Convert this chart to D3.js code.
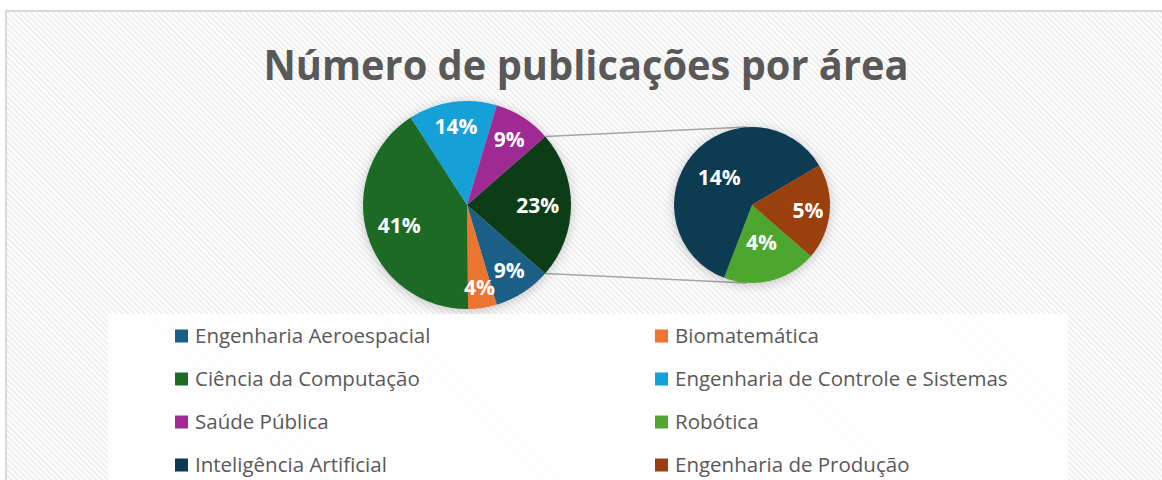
<!DOCTYPE html>
<html>
<head>
<meta charset="utf-8">
<script src="https://cdn.jsdelivr.net/npm/d3@7"></script>
<style>
  html, body { margin: 0; padding: 0; background: #fff; }
  svg { display: block; }
</style>
</head>
<body>
<div id="chart"></div>
<script>
// dados (percentuais)
const categorias = [
    "Engenharia Aeroespacial",
    "Biomatemática",
    "Ciência da Computação",
    "Engenharia de Controle e Sistemas",
    "Saúde Pública",
    "Robótica",
    "Inteligência Artificial",
    "Engenharia de Produção"
];
const valores = [8.9, 4.45, 41.0, 13.7, 8.9, 4.45, 13.9, 4.55];
const cores = ["#1b5e86", "#ed7532", "#1d6b25", "#13a0d8", "#a02c93", "#4ea72e", "#0e3a51", "#9a3f10"];
const corOutros = "#103e17";
const nSecundario = 3;   // as últimas 3 categorias vão para o segundo gráfico

const width = 1162,
    height = 480;

const total = d3.sum(valores);
const pct = v => Math.round(v / total * 100) + "%";

const svg = d3.select("#chart")
    .append("svg")
    .attr("width", width)
    .attr("height", height);

const defs = svg.append("defs");

const hatch = defs.append("pattern")
    .attr("id", "hatch")
    .attr("width", 4)
    .attr("height", 4)
    .attr("patternUnits", "userSpaceOnUse")
    .attr("patternTransform", "rotate(-45)");
hatch.append("rect").attr("width", 4).attr("height", 4).attr("fill", "#ffffff");
hatch.append("rect").attr("width", 1.6).attr("height", 4).attr("fill", "#ececec");

const shadow = defs.append("filter")
    .attr("id", "shadow")
    .attr("x", "-30%").attr("y", "-30%")
    .attr("width", "160%").attr("height", "160%");
shadow.append("feDropShadow")
    .attr("dx", 0).attr("dy", 2)
    .attr("stdDeviation", 6)
    .attr("flood-color", "#000")
    .attr("flood-opacity", 0.22);

// fundo do gráfico
svg.append("rect")
    .attr("x", 6)
    .attr("y", 11)
    .attr("width", width)
    .attr("height", height)
    .attr("fill", "url(#hatch)")
    .attr("stroke", "#d9d9d9")
    .attr("stroke-width", 2);

// título
svg.append("text")
    .attr("x", 586)
    .attr("y", 80)
    .attr("text-anchor", "middle")
    .attr("font-family", "'Open Sans', sans-serif")
    .attr("font-weight", "bold")
    .attr("font-size", 42)
    .attr("fill", "#595959")
    .attr("textLength", 645)
    .attr("lengthAdjust", "spacingAndGlyphs")
    .text("Número de publicações por área");

// pizza principal
const cx1 = 467, cy1 = 205, r1 = 104;
const cx2 = 752, cy2 = 205, r2 = 78;

const principais = categorias.slice(0, categorias.length - nSecundario).map((c, i) => ({ nome: c, valor: valores[i], cor: cores[i] }));
const secundarios = categorias.slice(-nSecundario).map((c, i) => {
    const k = categorias.length - nSecundario + i;
    return { nome: c, valor: valores[k], cor: cores[k] };
});
const somaOutros = d3.sum(secundarios, d => d.valor);

const anguloOutros = 2 * Math.PI * somaOutros / total;
const inicio1 = Math.PI / 2 - anguloOutros / 2;

const arcs1 = d3.pie()
    .sort(null)
    .value(d => d.valor)
    .startAngle(inicio1)
    .endAngle(inicio1 + 2 * Math.PI)([{ nome: "Outros", valor: somaOutros, cor: corOutros }].concat(principais));

const inicio2 = 131 * Math.PI / 180;
const arcs2 = d3.pie()
    .sort(null)
    .value(d => d.valor)
    .startAngle(inicio2)
    .endAngle(inicio2 + 2 * Math.PI)(secundarios);

// linhas de ligação
const pTop = d3.pointRadial(arcs1[0].startAngle, r1);
const pBot = d3.pointRadial(arcs1[0].endAngle, r1);
svg.append("g")
    .attr("stroke", "#a6a6a6")
    .attr("stroke-width", 1.5)
    .selectAll("line")
    .data([[pTop, [0, -r2]], [pBot, [0, r2]]])
    .join("line")
    .attr("x1", d => cx1 + d[0][0])
    .attr("y1", d => cy1 + d[0][1])
    .attr("x2", d => cx2 - 5 + d[1][0])
    .attr("y2", d => cy2 + d[1][1]);

function desenhaPizza(arcs, cx, cy, r, raioRotulo) {
    const arc = d3.arc().innerRadius(0).outerRadius(r);
    const g = svg.append("g").attr("transform", `translate(${cx},${cy})`);

    g.append("g")
        .attr("filter", "url(#shadow)")
        .selectAll("path")
        .data(arcs)
        .join("path")
        .attr("fill", d => d.data.cor)
        .attr("d", arc);

    g.append("g")
        .attr("font-family", "'Open Sans', sans-serif")
        .attr("font-weight", "bold")
        .attr("font-size", 21)
        .attr("fill", "#fff")
        .attr("text-anchor", "middle")
        .selectAll("text")
        .data(arcs)
        .join("text")
        .attr("transform", d => {
            const rr = raioRotulo(d) * r;
            const a = (d.startAngle + d.endAngle) / 2;
            return `translate(${d3.pointRadial(a, rr)})`;
        })
        .attr("dy", "0.36em")
        .text(d => pct(d.data.valor));
}

desenhaPizza(arcs1, cx1, cy1, r1, d => {
    const f = d.data.valor / total;
    return f < 0.05 ? 0.8 : f < 0.1 ? 0.75 : f < 0.2 ? 0.76 : 0.68;
});
desenhaPizza(arcs2, cx2, cy2, r2, d => {
    const f = (d.endAngle - d.startAngle) / (2 * Math.PI);
    return f > 0.5 ? 0.55 : d.startAngle > Math.PI * 0.8 ? 0.72 : 0.5;
});

// legenda
svg.append("rect")
    .attr("x", 108)
    .attr("y", 314)
    .attr("width", 960)
    .attr("height", 170)
    .attr("fill", "#ffffff")
    .attr("opacity", 0.85);

const legenda = svg.append("g")
    .selectAll("g")
    .data(categorias)
    .join("g")
    .attr("transform", (d, i) => `translate(${i % 2 ? 655 : 175},${336 + Math.floor(i / 2) * 43})`);

legenda.append("rect")
    .attr("x", 0)
    .attr("y", -6.5)
    .attr("width", 13)
    .attr("height", 13)
    .attr("fill", (d, i) => cores[i]);

legenda.append("text")
    .attr("x", 20)
    .attr("dy", "0.36em")
    .attr("font-family", "'Open Sans', sans-serif")
    .attr("font-size", 20.5)
    .attr("fill", "#595959")
    .text(d => d);
</script>
</body>
</html>
